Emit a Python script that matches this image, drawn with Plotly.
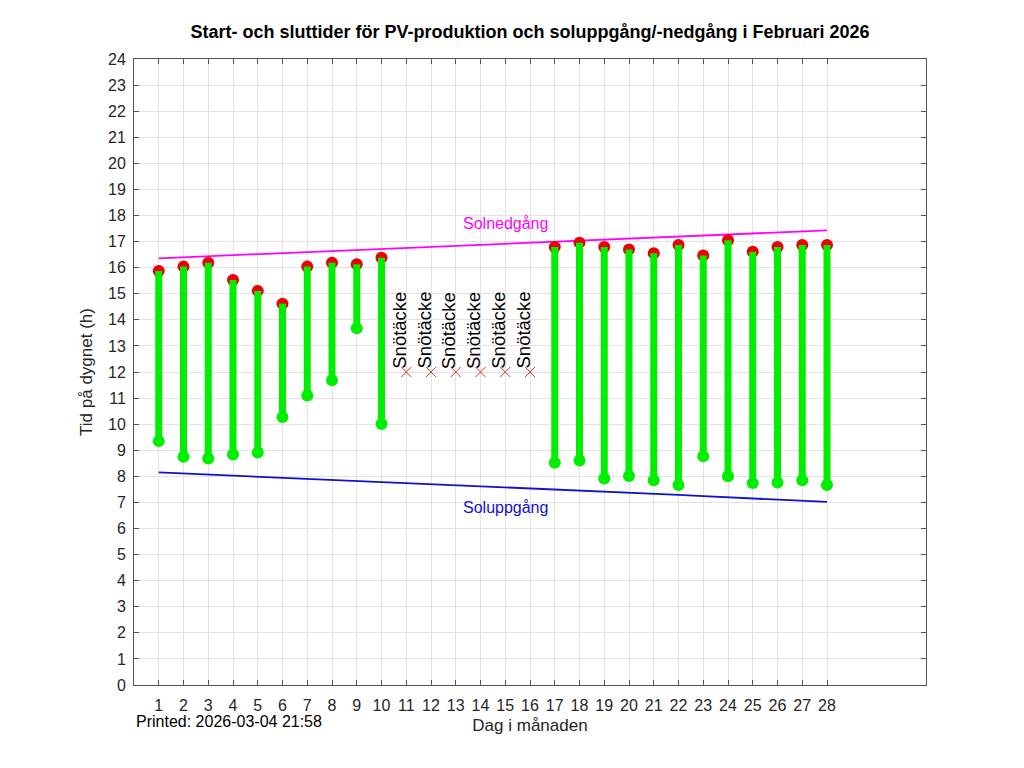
import plotly.graph_objects as go

days = list(range(1, 29))
pv_start = [9.35, 8.75, 8.68, 8.84, 8.91, 10.27, 11.10, 11.68, 13.68, 10.01,
            None, None, None, None, None, None,
            8.52, 8.61, 7.92, 8.01, 7.85, 7.67, 8.77, 8.00, 7.74, 7.76, 7.85, 7.67]
pv_end = [15.87, 16.04, 16.19, 15.53, 15.11, 14.62, 16.04, 16.19, 16.13, 16.38,
          None, None, None, None, None, None,
          16.79, 16.96, 16.79, 16.70, 16.55, 16.87, 16.47, 17.05, 16.61, 16.79, 16.87, 16.87]
snow_days = [11, 12, 13, 14, 15, 16]
snow_level = [12, 12, 12, 12, 12, 12]
snow_label = "Snötäcke"
sunset = [16.36, 16.40, 16.44, 16.48, 16.52, 16.56, 16.60, 16.64, 16.68, 16.72,
          16.76, 16.80, 16.84, 16.88, 16.92, 16.96, 17.00, 17.04, 17.08, 17.12,
          17.16, 17.20, 17.24, 17.28, 17.32, 17.36, 17.40, 17.43]
sunrise = [8.15, 8.11, 8.07, 8.03, 7.99, 7.95, 7.91, 7.87, 7.83, 7.79,
           7.75, 7.71, 7.67, 7.63, 7.59, 7.55, 7.50, 7.46, 7.42, 7.37,
           7.33, 7.29, 7.24, 7.20, 7.15, 7.11, 7.06, 7.02]
y_ticks = list(range(0, 25))
title = "Start- och sluttider för PV-produktion och soluppgång/-nedgång i Februari 2026"
printed = "Printed: 2026-03-04 21:58"

FONT = "Liberation Sans, Arial, sans-serif"
fig = go.Figure()

# sunset / sunrise lines
fig.add_trace(go.Scatter(x=days, y=sunset, mode="lines",
                         line=dict(color="#ff00ff", width=1.8), showlegend=False))
fig.add_trace(go.Scatter(x=days, y=sunrise, mode="lines",
                         line=dict(color="#1010d0", width=1.8), showlegend=False))

# red end markers (drawn first, below the green bars)
fig.add_trace(go.Scatter(x=days, y=pv_end, mode="markers",
                         marker=dict(color="#ee0000", size=12,
                                     line=dict(width=0)), showlegend=False))

# green bars
bx, by = [], []
for d, s, e in zip(days, pv_start, pv_end):
    if s is None or e is None:
        continue
    bx += [d, d, None]
    by += [s, e, None]
fig.add_trace(go.Scatter(x=bx, y=by, mode="lines",
                         line=dict(color="#00ee00", width=7), showlegend=False))
fig.add_trace(go.Scatter(x=days, y=pv_start, mode="markers",
                         marker=dict(color="#00ee00", size=12, line=dict(width=0)),
                         showlegend=False))

# snow markers
fig.add_trace(go.Scatter(x=snow_days, y=snow_level, mode="markers",
                         marker=dict(symbol="x-thin", size=10, color="red",
                                     line=dict(color="#e03030", width=1)),
                         showlegend=False))

annotations = []
for d, lv in zip(snow_days, snow_level):
    annotations.append(dict(x=d, y=lv, xref="x", yref="y", text=snow_label,
                            textangle=-90, showarrow=False, xanchor="center",
                            yanchor="bottom", xshift=-7, yshift=1,
                            font=dict(family=FONT, size=18.5, color="black")))

annotations.append(dict(x=days[14], y=sunset[14], xref="x", yref="y", text="Solnedgång",
                        showarrow=False, yshift=20,
                        font=dict(family=FONT, size=16, color="#ff00ff")))
annotations.append(dict(x=days[14], y=sunrise[14], xref="x", yref="y", text="Soluppgång",
                        showarrow=False, yshift=-20,
                        font=dict(family=FONT, size=16, color="#1010d0")))
annotations.append(dict(x=0, y=0, xref="paper", yref="paper", text=printed,
                        showarrow=False, xanchor="left", yanchor="top", yshift=-26,
                        font=dict(family=FONT, size=16, color="black")))

axis_common = dict(showline=True, linecolor="#555555", linewidth=1, mirror="ticks",
                   ticks="inside", ticklen=5, tickcolor="#555555",
                   showgrid=True, gridcolor="#e3e3e3", gridwidth=1, zeroline=False,
                   tickfont=dict(family=FONT, size=16, color="#262626"))

fig.update_layout(
    width=1024, height=768,
    margin=dict(l=126, r=106, t=51, b=91),
    paper_bgcolor="white", plot_bgcolor="white",
    title=dict(text="<b>" + title + "</b>", x=(126 + 396) / 1024, xanchor="center",
               y=1 - 24 / 768, yanchor="middle",
               font=dict(family=FONT, size=18, color="black")),
    xaxis=dict(range=[0, 32], tickvals=days, ticktext=[str(d) for d in days],
               title=dict(text="Dag i månaden", standoff=5,
                          font=dict(family=FONT, size=17, color="#262626")),
               ticklabelstandoff=6, **axis_common),
    yaxis=dict(range=[0, 24], tickvals=y_ticks,
               title=dict(text="Tid på dygnet (h)", standoff=11,
                          font=dict(family=FONT, size=17, color="#262626")),
               ticklabelstandoff=4, **axis_common),
    annotations=annotations,
)

fig.write_html("out.html")
